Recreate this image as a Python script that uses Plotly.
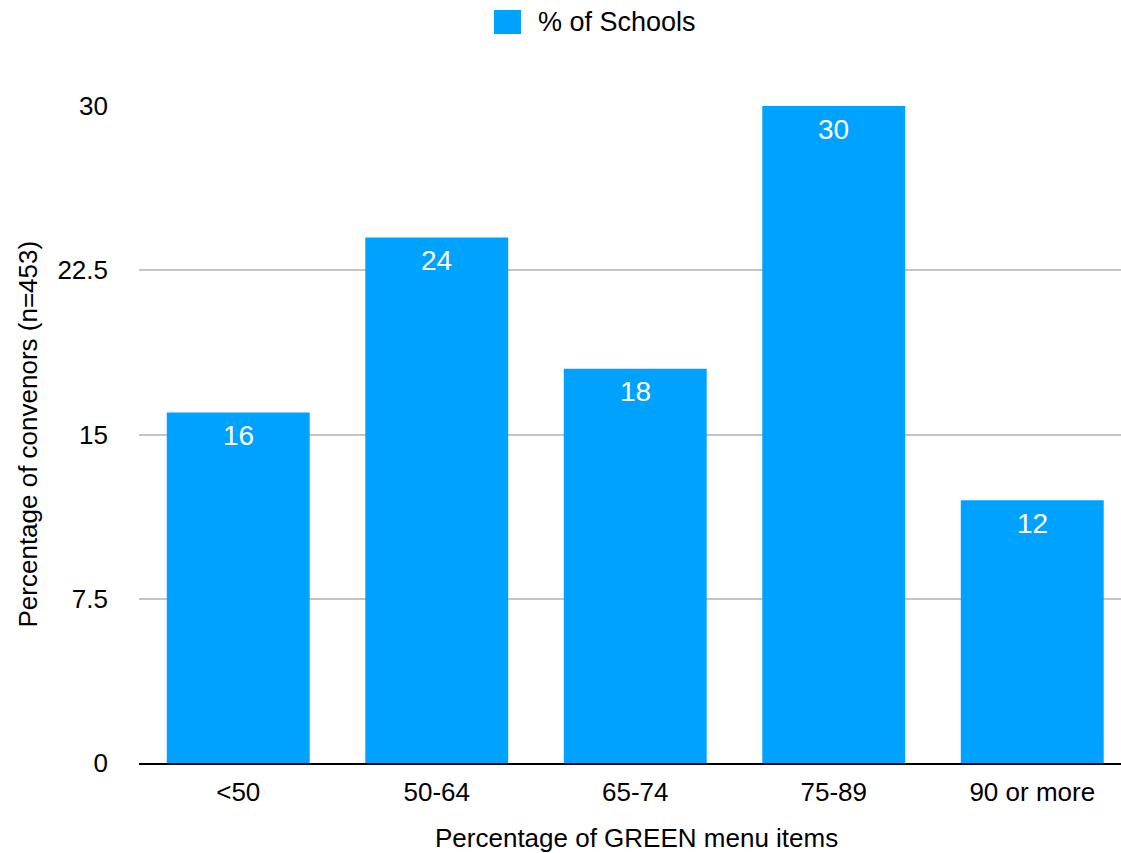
import plotly.graph_objects as go

categories = ["<50", "50-64", "65-74", "75-89", "90 or more"]
schools_pct = [16, 24, 18, 30, 12]
y_ticks = [0, 7.5, 15, 22.5, 30]
y_tick_labels = ["0", "7.5", "15", "22.5", "30"]

BAR_COLOR = "#00A2FF"
FONT = "Liberation Sans, Arial, Helvetica, sans-serif"
FS = 26
W, H = 1121, 853
L, R, T, B = 139, 0, 106, 90
PW, PH = W - L - R, H - T - B

fig = go.Figure()
fig.add_trace(go.Bar(
    x=list(range(len(categories))),
    y=schools_pct,
    marker=dict(color=BAR_COLOR, line=dict(width=0)),
    name="% of Schools",
    showlegend=False,
    hoverinfo="x+y",
))

# value labels inside the top of each bar
for i, v in enumerate(schools_pct):
    fig.add_annotation(x=i, y=v, text=str(v), showarrow=False,
                       yanchor="middle", yshift=-23,
                       font=dict(family=FONT, size=28, color="white"))

# legend swatch + label at the top
fig.add_shape(type="rect", xref="paper", yref="paper",
              x0=(494 - L) / PW, x1=(521 - L) / PW,
              y0=(H - B - 34) / PH, y1=(H - B - 10) / PH,
              fillcolor=BAR_COLOR, line=dict(width=0))
fig.add_annotation(xref="paper", yref="paper",
                   x=(536 - L) / PW, y=(H - B - 22) / PH,
                   xanchor="left", yanchor="middle", showarrow=False,
                   text="% of Schools", font=dict(family=FONT, size=27, color="black"))

# axis titles
fig.add_annotation(xref="paper", yref="paper",
                   x=(27 - L) / PW, y=0.5, textangle=-90,
                   xanchor="center", yanchor="middle", showarrow=False,
                   text="Percentage of convenors (n=453)",
                   font=dict(family=FONT, size=FS, color="black"))
fig.add_annotation(xref="paper", yref="paper",
                   x=(636 - L) / PW, y=-(838 - (H - B)) / PH,
                   xanchor="center", yanchor="middle", showarrow=False,
                   text="Percentage of GREEN menu items",
                   font=dict(family=FONT, size=FS, color="black"))

fig.update_layout(
    width=W, height=H,
    margin=dict(l=L, r=R, t=T, b=B),
    paper_bgcolor="white", plot_bgcolor="white",
    bargap=0.28,
    showlegend=False,
    font=dict(family=FONT, size=FS, color="black"),
    xaxis=dict(
        tickmode="array", tickvals=list(range(len(categories))), ticktext=categories,
        range=[-0.5, -0.5 + PW / 198.5],
        showgrid=False, zeroline=False,
        showline=True, linecolor="black", linewidth=2,
        ticks="", ticklabelstandoff=5,
        tickfont=dict(family=FONT, size=FS, color="black"),
    ),
    yaxis=dict(
        range=[0, 30], tickmode="array", tickvals=y_ticks, ticktext=y_tick_labels,
        showgrid=True, gridcolor="#c4c4c4", gridwidth=1.5,
        zeroline=False, showline=False, ticks="",
        ticklabelstandoff=30,
        tickfont=dict(family=FONT, size=FS, color="black"),
    ),
)

fig.write_html("out.html")
